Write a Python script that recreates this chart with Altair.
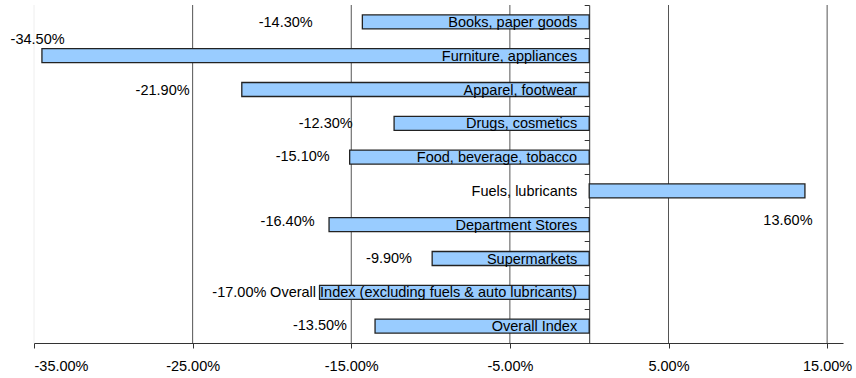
import altair as alt
import pandas as pd

# Year-over-year change of retail sales by category (percent)
categories = [
    "Books, paper goods",
    "Furniture, appliances",
    "Apparel, footwear",
    "Drugs, cosmetics",
    "Food, beverage, tobacco",
    "Fuels, lubricants",
    "Department Stores",
    "Supermarkets",
    "Overall Index (excluding fuels & auto lubricants)",
    "Overall Index",
]
values = [-14.3, -34.5, -21.9, -12.3, -15.1, 13.6, -16.4, -9.9, -17.0, -13.5]

# Value-label placement: horizontal shift (percentage points) and vertical nudge (px)
label_shift = [-3.13, 1.43, -3.29, -2.61, -1.26, 0.48, -0.91, -1.27, -3.35, -1.77]
label_dy = [0, -17, 0, 0, -1, 29, -4, -1, 0, -1]

tick_values = [-35, -25, -15, -5, 5, 15]

df = pd.DataFrame({
    "category": categories,
    "value": values,
    "label_x": [v + s for v, s in zip(values, label_shift)],
    "dy": label_dy,
    "label": [f"{v:.2f}%" for v in values],
})
grid_df = pd.DataFrame({"g": tick_values})

FONT = "Liberation Sans"
FS = 14.5
W, H = 809, 338
DOMAIN = [-35, 16]

x_scale = alt.Scale(domain=DOMAIN, nice=False, zero=False)
y_scale = alt.Scale(domain=categories, paddingInner=0, paddingOuter=0)

x_axis = alt.Axis(
    values=tick_values,
    labelExpr="(datum.value < 0 ? '-' : '') + format(abs(datum.value), '.2f') + '%'",
    grid=False,
    domainColor="#333333",
    tickColor="#333333",
    tickSize=5,
    labelPadding=11,
    labelFont=FONT,
    labelFontSize=FS,
    labelColor="#000000",
    title=None,
)

px_per_unit = W / (DOMAIN[1] - DOMAIN[0])
y_axis = alt.Axis(
    labels=False,
    title=None,
    grid=False,
    bandPosition=0,
    offset=-(0 - DOMAIN[0]) * px_per_unit,
    domainColor="#333333",
    tickColor="#333333",
    tickSize=5,
)

grid = alt.Chart(grid_df).mark_rule(strokeWidth=1).encode(
    x=alt.X("g:Q", scale=x_scale, axis=x_axis),
    color=alt.condition("datum.g == -35", alt.value("#eeeeee"), alt.value("#555555")),
)

bars = alt.Chart(df).mark_bar(
    height=14, fill="#99CCFF", stroke="#222222", strokeWidth=1.3
).encode(
    x=alt.X("value:Q", scale=x_scale),
    x2=alt.datum(0),
    y=alt.Y("category:N", scale=y_scale, axis=y_axis, sort=categories),
)

names = alt.Chart(df).mark_text(
    align="right", baseline="middle", dx=-12, dy=1, font=FONT, fontSize=FS, color="#000000"
).encode(
    x=alt.datum(0),
    y=alt.Y("category:N", scale=y_scale, sort=categories),
    text="category:N",
)

value_layers = []
for d in sorted(set(label_dy)):
    value_layers.append(
        alt.Chart(df).transform_filter(f"datum.dy == {d}").mark_text(
            align="right", baseline="middle", dy=d + 1, font=FONT, fontSize=FS, color="#000000"
        ).encode(
            x=alt.X("label_x:Q", scale=x_scale),
            y=alt.Y("category:N", scale=y_scale, sort=categories),
            text="label:N",
        )
    )

chart = alt.layer(grid, bars, names, *value_layers).properties(
    width=W,
    height=H,
    autosize=alt.AutoSizeParams(type="none"),
    padding={"left": 34, "top": 5, "right": 13, "bottom": 35},
    background="#ffffff",
).configure_view(stroke=None)

chart.save("out.html", embed_options={"renderer": "svg", "actions": False})
